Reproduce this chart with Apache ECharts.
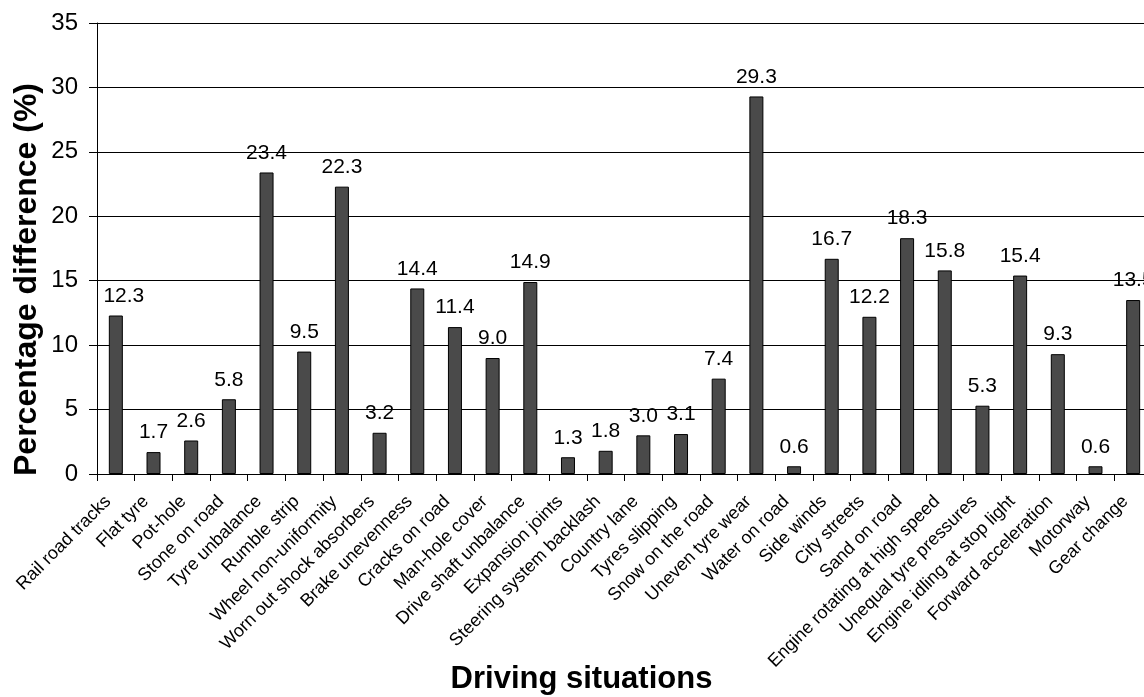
<!DOCTYPE html>
<html>
<head>
<meta charset="utf-8">
<script src="https://cdn.jsdelivr.net/npm/echarts@6/dist/echarts.min.js"></script>
<style>
  html, body { margin: 0; padding: 0; background: #fff; }
  #chart { width: 1144px; height: 697px; }
</style>
</head>
<body>
<div id="chart"></div>
<script>
// Driving situations and the percentage difference measured for each
const categories = [
  'Rail road tracks', 'Flat tyre', 'Pot-hole', 'Stone on road', 'Tyre unbalance',
  'Rumble strip', 'Wheel non-uniformity', 'Worn out shock absorbers', 'Brake unevenness',
  'Cracks on road', 'Man-hole cover', 'Drive shaft unbalance', 'Expansion joints',
  'Steering system backlash', 'Country lane', 'Tyres slipping', 'Snow on the road',
  'Uneven tyre wear', 'Water on road', 'Side winds', 'City streets', 'Sand on road',
  'Engine rotating at high speed', 'Unequal tyre pressures', 'Engine idling at stop light',
  'Forward acceleration', 'Motorway', 'Gear change'
];
const values = [
  12.3, 1.7, 2.6, 5.8, 23.4, 9.5, 22.3, 3.2, 14.4, 11.4, 9.0, 14.9, 1.3, 1.8,
  3.0, 3.1, 7.4, 29.3, 0.6, 16.7, 12.2, 18.3, 15.8, 5.3, 15.4, 9.3, 0.6, 13.5
];
const yTicks = { min: 0, max: 35, interval: 5 };

const FONT = '"Liberation Sans", Arial, sans-serif';
const chart = echarts.init(document.getElementById('chart'), null, { renderer: 'canvas' });

const barData = values.map((v, i) => {
  const item = { value: v };
  // keep the first label clear of the vertical axis
  if (i === 0) item.label = { offset: [8, 0] };
  return item;
});

chart.setOption({
  animation: false,
  backgroundColor: '#ffffff',
  grid: {
    left: 97, top: 23, width: 1055, height: 451,
    containLabel: false, outerBoundsMode: 'none'
  },
  xAxis: {
    type: 'category',
    data: categories,
    name: 'Driving situations',
    nameLocation: 'middle',
    nameGap: 190,
    nameMoveOverlap: false,
    nameTextStyle: {
      fontFamily: FONT, fontSize: 31, fontWeight: 'bold', color: '#000',
      padding: [0, 86, 0, 0]
    },
    axisLine: { lineStyle: { color: '#000', width: 1 } },
    axisTick: { show: true, alignWithLabel: false, length: 7, lineStyle: { color: '#000' } },
    axisLabel: {
      interval: 0, rotate: 45, margin: 17,
      padding: [0, 11, 0, 0],
      fontFamily: FONT, fontSize: 18, color: '#000'
    },
    splitLine: { show: false }
  },
  yAxis: {
    type: 'value',
    min: yTicks.min, max: yTicks.max, interval: yTicks.interval,
    name: 'Percentage difference (%)',
    nameLocation: 'middle',
    nameRotate: 90,
    nameGap: 54,
    nameMoveOverlap: false,
    nameTextStyle: {
      fontFamily: FONT, fontSize: 32, fontWeight: 'bold', color: '#000',
      padding: [0, 62, 0, 0]
    },
    axisLine: { show: true, lineStyle: { color: '#000', width: 1 } },
    axisTick: { show: true, inside: false, length: 8, lineStyle: { color: '#000' } },
    axisLabel: { margin: 19, fontFamily: FONT, fontSize: 24, color: '#000' },
    splitLine: { show: true, lineStyle: { color: '#000', width: 1 } }
  },
  series: [{
    type: 'bar',
    data: barData,
    barWidth: 14,
    itemStyle: { color: '#4a4a4a', borderColor: '#000', borderWidth: 1 },
    label: {
      show: true, position: 'top', distance: 9,
      fontFamily: FONT, fontSize: 21, color: '#000',
      formatter: p => p.value.toFixed(1)
    }
  }]
});
</script>
</body>
</html>
